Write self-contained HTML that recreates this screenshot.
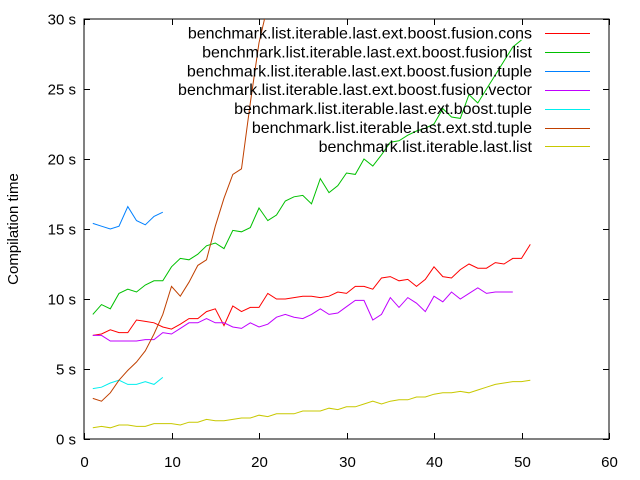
<!DOCTYPE html>
<html><head><meta charset="utf-8"><style>
body{margin:0;background:#fff;}
svg{display:block;font-family:"Liberation Sans",Arial,sans-serif;}
</style></head><body>
<svg id="chart" width="640" height="480" viewBox="0 0 640 480" xmlns="http://www.w3.org/2000/svg">
<defs><clipPath id="plotclip"><rect x="84" y="19" width="525" height="420"/></clipPath></defs>
<g id="axes"></g>
<g id="series" clip-path="url(#plotclip)"></g>
<g id="legend"></g>
<text x="18" y="229" font-size="15" text-anchor="middle" transform="rotate(-90 18 229)">Compilation time</text>
</svg>
<script>
const xTicks=[0,10,20,30,40,50,60];
const yTicks=[0,5,10,15,20,25,30];
const seriesNames=["benchmark.list.iterable.last.ext.boost.fusion.cons","benchmark.list.iterable.last.ext.boost.fusion.list","benchmark.list.iterable.last.ext.boost.fusion.tuple","benchmark.list.iterable.last.ext.boost.fusion.vector","benchmark.list.iterable.last.ext.boost.tuple","benchmark.list.iterable.last.ext.std.tuple","benchmark.list.iterable.last.list"];
const seriesColors=["#ff0000","#00c000","#0080ff","#c000ff","#00eeee","#c04000","#c8c800"];
const consValues=[7.4,7.5,7.8,7.6,7.6,8.5,8.4,8.3,8.0,7.85,8.2,8.6,8.6,9.1,9.3,8.1,9.5,9.1,9.4,9.4,10.4,10.0,10.0,10.1,10.2,10.2,10.1,10.2,10.5,10.4,10.9,10.9,10.7,11.5,11.6,11.3,11.4,10.9,11.4,12.3,11.6,11.5,12.1,12.5,12.2,12.2,12.6,12.5,12.9,12.9,13.9];
const listValues=[8.9,9.6,9.3,10.4,10.7,10.5,11.0,11.3,11.3,12.3,12.9,12.8,13.2,13.8,14.0,13.6,14.9,14.8,15.1,16.5,15.6,16.0,17.0,17.3,17.4,16.8,18.6,17.6,18.1,19.0,18.9,20.0,19.5,20.3,21.2,21.3,21.7,22.0,22.2,22.5,23.6,23.0,22.9,24.6,24.0,25.0,26.0,27.0,28.0,28.5];
const tupleValues=[15.4,15.2,15.0,15.2,16.6,15.6,15.3,15.9,16.2];
const vectorValues=[7.4,7.4,7.0,7.0,7.0,7.0,7.1,7.1,7.6,7.5,7.9,8.3,8.3,8.6,8.3,8.3,8.0,7.9,8.3,8.0,8.2,8.7,8.9,8.7,8.6,8.9,9.3,8.9,9.0,9.45,9.9,9.9,8.5,8.9,10.1,9.4,10.1,9.7,9.1,10.2,9.8,10.5,10.0,10.4,10.8,10.4,10.5,10.5,10.5];
const boostTupleValues=[3.6,3.7,4.0,4.2,3.9,3.9,4.1,3.9,4.4];
const stdTupleValues=[2.9,2.7,3.3,4.2,4.9,5.5,6.3,7.5,8.9,10.9,10.2,11.2,12.4,12.8,15.2,17.2,18.9,19.3,24.0,28.3,31.0];
const lastListValues=[0.8,0.9,0.8,1.0,1.0,0.9,0.9,1.1,1.1,1.1,1.0,1.2,1.2,1.4,1.3,1.3,1.4,1.5,1.5,1.7,1.6,1.8,1.8,1.8,2.0,2.0,2.0,2.2,2.1,2.3,2.3,2.5,2.7,2.5,2.7,2.8,2.8,3.0,3.0,3.2,3.3,3.3,3.4,3.3,3.5,3.7,3.9,4.0,4.1,4.1,4.2];
const allSeries=[consValues,listValues,tupleValues,vectorValues,boostTupleValues,stdTupleValues,lastListValues];

const NS="http://www.w3.org/2000/svg";
const X0=84,X1=609,Y0=439,Y1=19;
function xs(v){return X0+(v-0)/(60-0)*(X1-X0);}
function ys(v){return Y0-(v-0)/(30-0)*(Y0-Y1);}
function mk(tag,attrs,parent){const e=document.createElementNS(NS,tag);for(const k in attrs)e.setAttribute(k,attrs[k]);parent.appendChild(e);return e;}
const axes=document.getElementById('axes');
const frame=mk('rect',{x:X0,y:Y1,width:X1-X0,height:Y0-Y1,fill:'none',stroke:'#000','stroke-width':1},axes);


xTicks.forEach(t=>{
  const x=Math.round(xs(t))+0.5;
  const tk=mk('path',{d:`M${x},${Y0}v-6M${x},${Y1}v6`,stroke:'#000','stroke-width':1},axes);
  
  
  const lb=mk('text',{x:x,y:467,'font-size':15,'text-anchor':'middle'},axes);
  lb.textContent=String(t);
  
  
});
yTicks.forEach(t=>{
  const y=Math.round(ys(t))+0.5;
  const tk=mk('path',{d:`M${X0},${y}h6M${X1},${y}h-6`,stroke:'#000','stroke-width':1},axes);
  
  
  const lb=mk('text',{x:76,y:y+5,'font-size':15,'text-anchor':'end'},axes);
  lb.textContent=t+' s';
  
  
});
const sg=document.getElementById('series');
allSeries.forEach((vals,i)=>{
  const d=vals.map((v,j)=>(j?'L':'M')+xs(j+1).toFixed(1)+','+ys(v).toFixed(1)).join('');
  const p=mk('path',{d:d,fill:'none',stroke:seriesColors[i],'stroke-width':1},sg);
  
  
});
const lg=document.getElementById('legend');
seriesNames.forEach((n,i)=>{
  const y=33+i*18.9;
  const t=mk('text',{x:532,y:y+5.5,'font-size':16,'text-anchor':'end'},lg);
  t.textContent=n;
  
  
  const l=mk('line',{x1:545,x2:590,y1:Math.round(y)+0.5,y2:Math.round(y)+0.5,stroke:seriesColors[i],'stroke-width':1},lg);
  
  
});
</script>
</body></html>
